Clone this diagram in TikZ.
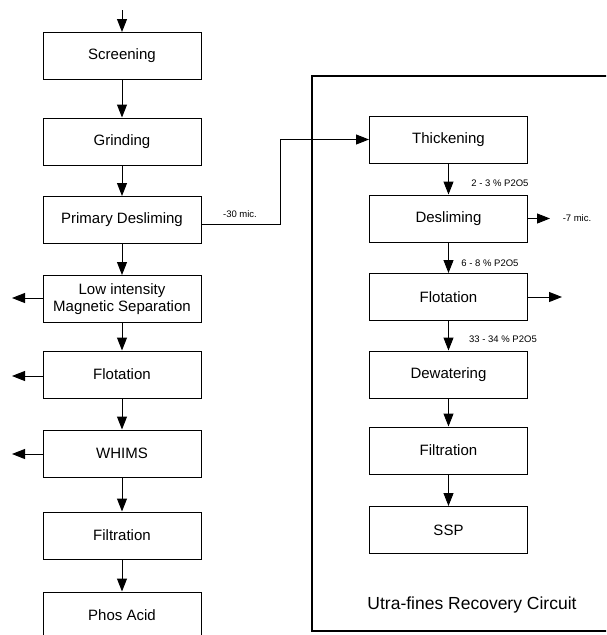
\documentclass[tikz,border=0pt]{standalone}
\usepackage{fontspec}
\setmainfont{Liberation Sans}
\usetikzlibrary{arrows.meta}
\begin{document}
\begin{tikzpicture}[x=1pt,y=-1pt,
  box/.style={draw,line width=1pt,minimum width=158pt,minimum height=47pt,inner sep=1pt,align=center,font=\fontsize{15}{17}\selectfont},
  conn/.style={line width=1pt,-{Triangle[length=13pt,width=10pt]}},
  small/.style={font=\fontsize{9.5}{11}\selectfont,inner sep=0pt}]
\clip (0,0) rectangle (606,635);
\fill[white] (0,0) rectangle (606,635);
% frame
\draw[line width=2pt] (312,76) rectangle (640,631);
% left column
\node[box] (scr) at (122,56) {Screening};
\node[box] (gri) at (122,141.5) {Grinding};
\node[box] (pds) at (122,220) {Primary Desliming};
\node[box] (lims) at (122,299) {Low intensity\\Magnetic Separation};
\node[box] (flo) at (122,374.5) {Flotation};
\node[box] (whi) at (122,453.5) {WHIMS};
\node[box] (fil) at (122,535.5) {Filtration};
\node[box] (pho) at (122,615.5) {Phos Acid};
% right column
\node[box] (thi) at (448.5,139.5) {Thickening};
\node[box] (des) at (448.5,218.5) {Desliming};
\node[box] (flo2) at (448.5,297) {Flotation};
\node[box] (dew) at (448.5,374.5) {Dewatering};
\node[box] (fil2) at (448.5,450.5) {Filtration};
\node[box] (ssp) at (448.5,530) {SSP};
% free ends
\coordinate (in) at (122,10);
\coordinate (limsout) at (12,298);
\coordinate (floout) at (12,376);
\coordinate (whiout) at (12,454);
\coordinate (desout) at (550,218.5);
\coordinate (flo2out) at (562,297);
\coordinate (bend) at (280,224);
% connectors
\draw[conn] (in) -- (scr);
\draw[conn] (scr) -- (gri);
\draw[conn] (gri) -- (pds);
\draw[conn] (pds) -- (lims);
\draw[conn] (lims) -- (flo);
\draw[conn] (flo) -- (whi);
\draw[conn] (whi) -- (fil);
\draw[conn] (fil) -- (pho);
\draw[conn] (lims.west |- limsout) -- (limsout);
\draw[conn] (flo.west |- floout) -- (floout);
\draw[conn] (whi.west |- whiout) -- (whiout);
\draw[conn] (pds.east |- bend) -- (bend) |- (thi.west);
\draw[conn] (thi) -- (des);
\draw[conn] (des) -- (flo2);
\draw[conn] (flo2) -- (dew);
\draw[conn] (dew) -- (fil2);
\draw[conn] (fil2) -- (ssp);
\draw[conn] (des.east) -- (desout);
\draw[conn] (flo2.east) -- (flo2out);
% labels
\node[small] (l30) at (240,214) {-30 mic.};
\node[small] (l7) at (577,218.5) {-7 mic.};
\node[small] (p1) at (500,183) {2 - 3 \% P2O5};
\node[small] (p2) at (490,263) {6 - 8 \% P2O5};
\node[small] (p3) at (503,339) {33 - 34 \% P2O5};
\node[font=\fontsize{17.5}{20}\selectfont,inner sep=0pt] (title) at (472,605) {Utra-fines Recovery Circuit};
\end{tikzpicture}
\end{document}
